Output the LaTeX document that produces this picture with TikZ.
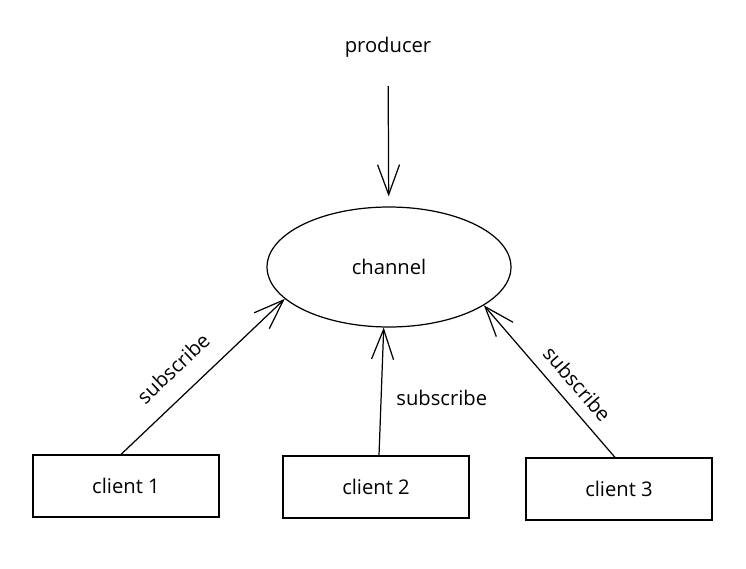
\documentclass[tikz,border=0pt]{standalone}
\usepackage{fontspec}
\setmainfont{Open Sans}
\usetikzlibrary{arrows.meta, shapes.geometric}

\begin{document}
\begin{tikzpicture}[x=0.02cm, y=-0.02cm, line width=0.7pt,
  font=\fontsize{11.5}{13}\selectfont,
  client/.style={draw, minimum width=3.72cm, minimum height=1.24cm},
  sub/.style={-{Straight Barb[length=6mm,width=4.4mm]}}]
\useasboundingbox (0,0) rectangle (746,568);
% channel and producer
\node[ellipse, draw, minimum width=4.88cm, minimum height=2.4cm] (ch) at (389,267) {channel};
\node (prod) at (388,47) {producer};
\draw[sub, shorten <=0.45cm, shorten >=0.2cm] (prod) -- (ch);
% clients
\node[client] (c1) at (126,486) {client 1};
\node[client] (c2) at (376,487) {client 2};
\node[client] (c3) at (619,489) {client 3};
% subscriptions
\draw[sub] ([xshift=-0.1cm]c1.north) -- (ch.197) node[pos=0.43, sloped, above=7pt] {subscribe};
\draw[sub] ([xshift=0.06cm]c2.north) -- (ch.265) node[pos=0.45, right=5pt] {subscribe};
\draw[sub] ([xshift=-0.08cm]c3.north) -- (ch.338) node[pos=0.4, sloped, above=3pt] {subscribe};
\end{tikzpicture}
\end{document}
